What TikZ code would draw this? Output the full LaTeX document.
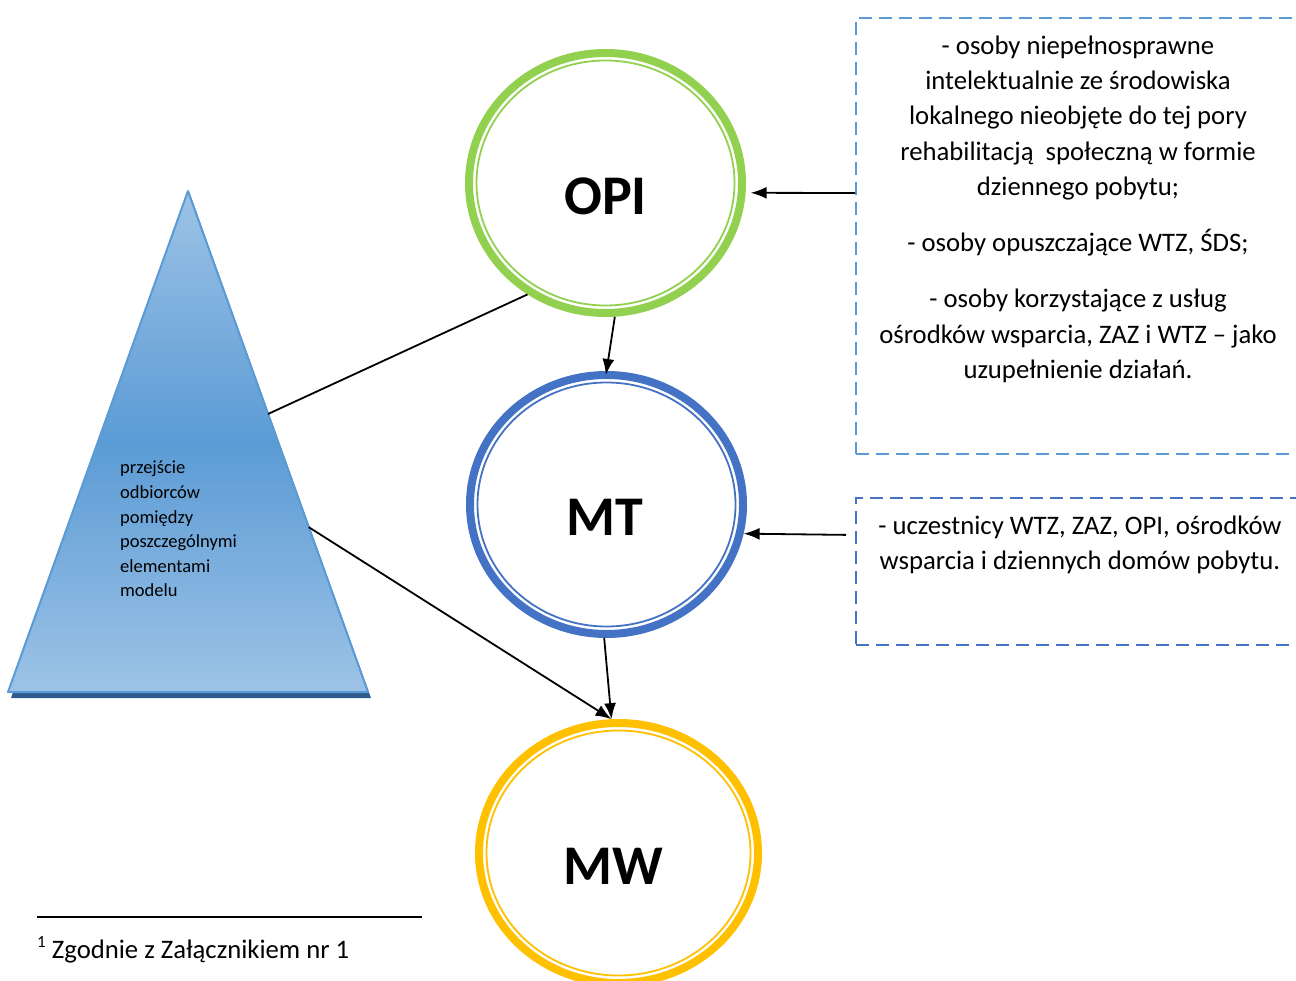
\documentclass[tikz,border=0pt]{standalone}
\usepackage{fontspec}
\setmainfont{Carlito}
\usetikzlibrary{shapes.geometric,arrows.meta,calc}
\definecolor{opig}{HTML}{92D050}
\definecolor{mtb}{HTML}{4472C4}
\definecolor{mwy}{HTML}{FFC000}
\definecolor{dash1}{HTML}{5B9BD5}
\definecolor{dash2}{HTML}{4472C4}
\definecolor{trilight}{HTML}{9DC3E6}
\definecolor{trimid}{HTML}{5B9BD5}
\definecolor{triedge}{HTML}{5B9BD5}
\definecolor{trishadow}{HTML}{2F5C8A}
\begin{document}
\begin{tikzpicture}[x=1pt,y=-1pt,
  ring/.style={ellipse, draw=#1, line width=8pt, inner sep=0pt},
  thinring/.style={draw=#1, line width=1.8pt},
  bigtxt/.style={font=\fontsize{56pt}{60pt}\selectfont\bfseries, inner sep=0pt},
  dbox/.style={draw=#1, line width=2pt, dash pattern=on 13pt off 7pt, rectangle, inner sep=0pt, anchor=north west},
  boxtxt/.style={font=\fontsize{26.7pt}{35.3pt}\selectfont, align=center, inner sep=0pt, anchor=north},
  conn/.style={line width=1.8pt, black},
  arr/.style={conn, -{Latex[length=16pt,width=12pt]}}
]
\useasboundingbox (0,0) rectangle (1296,981);

% triangle
\coordinate (tA) at (188,191);
\coordinate (tL) at (8,692);
\coordinate (tR) at (368,692);
\fill[trishadow] ($(tA)+(3,6)$) -- ($(tL)+(3,6)$) -- ($(tR)+(3,6)$) -- cycle;
\shade[top color=trilight, bottom color=trilight, middle color=trimid] (tA) -- (tL) -- (tR) -- cycle;
\draw[triedge, line width=2pt, line join=round] (tA) -- (tL) -- (tR) -- cycle;
\coordinate (tE1) at ($(tA)!0.445!(tR)$);
\coordinate (tE2) at ($(tA)!0.671!(tR)$);
\node[anchor=north west, align=left, inner sep=0pt, font=\fontsize{18.5pt}{24.6pt}\selectfont] (ttext) at (120,461)
  {przejście\\odbiorców\\pomiędzy\\poszczególnymi\\elementami\\modelu};

% circles
\node[ring=opig, minimum width=273pt, minimum height=260pt] (opi) at (605.5,183) {};
\draw[thinring=opig] (opi.center) ellipse [x radius=129, y radius=122.5];
\node[bigtxt] (opit) at ($(opi.center)+(0,13)$) {OPI};

\node[ring=mtb, minimum width=273pt, minimum height=259pt] (mt) at (606.5,504.5) {};
\draw[thinring=mtb] (mt.center) ellipse [x radius=129, y radius=122];
\node[bigtxt] (mtt) at ($(mt.center)+(-2,13)$) {MT};

\node[ring=mwy, minimum width=279pt, minimum height=260pt] (mw) at (618.5,853) {};
\draw[thinring=mwy] (mw.center) ellipse [x radius=132, y radius=122.5];
\node[bigtxt] (mwt) at ($(mw.center)+(-5,13)$) {MW};

% dashed boxes
\node[dbox=dash1, minimum width=460pt, minimum height=436pt] (box1) at (855,17) {};
\node[boxtxt] (b1t) at (1078,35.4) {- osoby niepełnosprawne\\intelektualnie ze środowiska\\lokalnego nieobjęte do tej pory\\rehabilitacją\ \ społeczną w formie\\dziennego pobytu;\\[21pt]- osoby opuszczające WTZ, ŚDS;\\[21pt]- osoby korzystające z usług\\ośrodków wsparcia, ZAZ i WTZ – jako\\uzupełnienie działań.};

\node[dbox=dash2, minimum width=460pt, minimum height=147pt] (box2) at (855,497) {};
\node[boxtxt] (b2t) at (1080,515.4) {- uczestnicy WTZ, ZAZ, OPI, ośrodków\\wsparcia i dziennych domów pobytu.};

% connectors
\draw[conn] (tE1) -- (opi.235);
\draw[arr] (tE2) -- (mw.93);
\draw[arr, shorten >=-4pt] (opi.-86) -- (mt.north);
\draw[arr] (mt.-91) -- (mw.93);
\draw[arr, shorten >=5pt] (box1.west |- 0,193) -- (opi.-4);
\draw[arr, shorten <=9pt] (box2.west |- 0,535) -- (mt.-12);

% footnote
\coordinate (fnA) at (37,917);
\coordinate (fnB) at (422,917);
\draw[line width=1.5pt] (fnA) -- (fnB);
\node[anchor=base west, inner sep=0pt, font=\fontsize{26.7pt}{30pt}\selectfont] (fn) at (37,958)
  {\raisebox{11pt}{\fontsize{17pt}{17pt}\selectfont 1} Zgodnie z Załącznikiem nr 1};
\end{tikzpicture}
\end{document}
